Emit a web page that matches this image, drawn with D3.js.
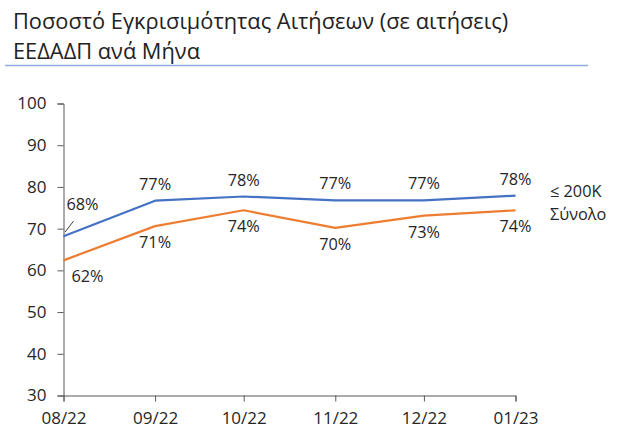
<!DOCTYPE html>
<html>
<head>
<meta charset="utf-8">
<script src="https://cdn.jsdelivr.net/npm/d3@7"></script>
<style>
  html, body { margin: 0; padding: 0; background: #fff; }
  svg { display: block; }
</style>
</head>
<body>
<svg id="chart" width="635" height="441"></svg>
<script>
// ---- data ----
const titleLines = ["Ποσοστό Εγκρισιμότητας Αιτήσεων (σε αιτήσεις)", "ΕΕΔΑΔΠ ανά Μήνα"];
const months = ["2022-08-01", "2022-09-01", "2022-10-01", "2022-11-01", "2022-12-01", "2023-01-01"];
const monthLabels = ["08/22", "09/22", "10/22", "11/22", "12/22", "01/23"];
const seriesNames = ["≤ 200K", "Σύνολο"];
const under200K = [68.2, 76.7, 77.7, 76.8, 76.8, 77.9];
const total = [62.4, 70.6, 74.4, 70.2, 73.1, 74.4];
const yTicks = [30, 40, 50, 60, 70, 80, 90, 100];
const colors = ["#4472C4", "#ED7D31"];

// ---- chart ----
const svg = d3.select("#chart");
const parse = d3.timeParse("%Y-%m-%d");
const dates = months.map(parse);

const x = d3.scaleTime().domain([dates[0], dates[dates.length - 1]]).range([63.5, 515.5]);
const y = d3.scaleLinear().domain([30, 100]).range([395.5, 103.5]);

const font = "'Open Sans', sans-serif";

// title
const title = svg.append("g").attr("font-family", font).attr("fill", "#222");
titleLines.forEach((t, i) => {
  title.append("text").attr("x", 13).attr("y", 29 + i * 30)
    .attr("font-size", 21.8).text(t);
});
svg.append("line").attr("x1", 5).attr("x2", 588).attr("y1", 65.5).attr("y2", 65.5)
  .attr("stroke", "#8FAADC").attr("stroke-width", 1.5);

// y axis
const yAxis = svg.append("g").attr("transform", "translate(63.5,0)")
  .call(d3.axisLeft(y).tickValues(yTicks).tickSize(6).tickPadding(11));
yAxis.select(".domain").attr("stroke", "#595959");
yAxis.selectAll(".tick line").attr("stroke", "#595959");
yAxis.selectAll(".tick text").attr("font-family", font)
  .attr("font-size", 17).attr("fill", "#262626");

// x axis
const xAxis = svg.append("g").attr("transform", "translate(0,395.5)")
  .call(d3.axisBottom(x).tickValues(dates).tickFormat((d, i) => monthLabels[i]).tickSize(6).tickPadding(10));
xAxis.select(".domain").attr("stroke", "#595959");
xAxis.selectAll(".tick line").attr("stroke", "#595959");
xAxis.selectAll(".tick text").attr("font-family", font)
  .attr("font-size", 17).attr("fill", "#262626");

// lines
const line = d3.line().x((d, i) => x(dates[i])).y(d => y(d));
[under200K, total].forEach((vals, s) => {
  svg.append("path").datum(vals).attr("d", line)
    .attr("fill", "none").attr("stroke", colors[s]).attr("stroke-width", 2.2)
    .attr("stroke-linejoin", "round");
});

// data labels
const lbl = svg.append("g").attr("font-family", font)
  .attr("font-size", 16.3).attr("fill", "#262626").attr("text-anchor", "middle");
under200K.forEach((v, i) => {
  let lx = x(dates[i]), ly = y(v) - 11;
  if (i === 0) { lx = x(dates[i]) + 19; ly = y(v) - 26; }
  lbl.append("text").attr("x", lx).attr("y", ly).text(Math.round(v) + "%");
});
// leader line for first label
svg.append("line")
  .attr("x1", x(dates[0]) + 1.5).attr("y1", y(under200K[0]) - 4)
  .attr("x2", x(dates[0]) + 10).attr("y2", y(under200K[0]) - 15)
  .attr("stroke", "#404040").attr("stroke-width", 1);
total.forEach((v, i) => {
  let lx = x(dates[i]), ly = y(v) + 22;
  if (i === 0) { lx = x(dates[i]) + 24; }
  lbl.append("text").attr("x", lx).attr("y", ly).text(Math.round(v) + "%");
});

// legend labels at line ends
const leg = svg.append("g").attr("font-family", font)
  .attr("font-size", 16.3).attr("fill", "#262626");
leg.append("text").attr("x", 550).attr("y", 197).text(seriesNames[0]);
leg.append("text").attr("x", 550).attr("y", 220).text(seriesNames[1]);
</script>
</body>
</html>
